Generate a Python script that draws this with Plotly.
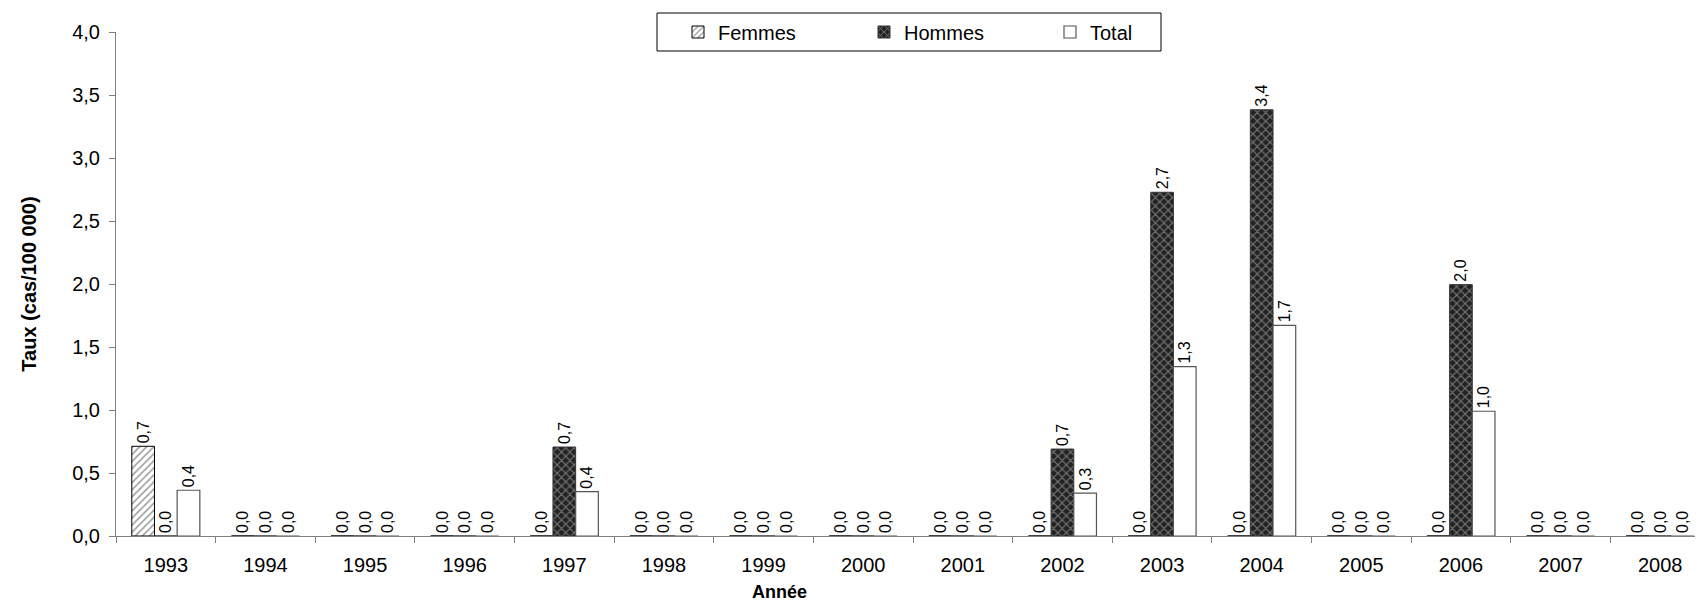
import plotly.graph_objects as go

years = ["1993", "1994", "1995", "1996", "1997", "1998", "1999", "2000",
         "2001", "2002", "2003", "2004", "2005", "2006", "2007", "2008"]
femmes = [0.712, 0, 0, 0, 0, 0, 0, 0, 0, 0, 0, 0, 0, 0, 0, 0]
hommes = [0, 0, 0, 0, 0.706, 0, 0, 0, 0, 0.69, 2.728, 3.383, 0, 1.995, 0, 0]
total = [0.363, 0, 0, 0, 0.352, 0, 0, 0, 0, 0.34, 1.345, 1.672, 0, 0.99, 0, 0]

LABEL_FONT = dict(family="Liberation Sans Narrow, Arial Narrow, Liberation Sans, sans-serif",
                  size=16, color="black")

# plot area in pixels: left 108, top 24, bottom 528 (paper area starts at y=5)
PAPER_H = 607 - 5 - 79
PLOT_W = 1703 - 108 - 1

fig = go.Figure()
fig.add_trace(go.Bar(
    name="Femmes", x=years, y=femmes,
    marker=dict(color="white", line=dict(color="black", width=1),
                pattern=dict(shape="/", fgcolor="#333333", size=5, solidity=0.3)),
    texttemplate="%{y:.1f}", textposition="outside", textangle=-90,
    textfont=LABEL_FONT, cliponaxis=False,
))
fig.add_trace(go.Bar(
    name="Hommes", x=years, y=hommes,
    marker=dict(color="#222222", line=dict(color="#333333", width=1),
                pattern=dict(shape="x", fgcolor="#cccccc", size=6, solidity=0.35)),
    texttemplate="%{y:.1f}", textposition="outside", textangle=-90,
    textfont=LABEL_FONT, cliponaxis=False,
))
fig.add_trace(go.Bar(
    name="Total", x=years, y=total,
    marker=dict(color="white", line=dict(color="#555555", width=1.2)),
    texttemplate="%{y:.1f}", textposition="outside", textangle=-90,
    textfont=LABEL_FONT, cliponaxis=False,
))

# legend frame, drawn separately so its size can match the original box
fig.add_shape(type="rect", xref="paper", yref="paper",
              x0=(649 - 108) / PLOT_W, x1=(1153 - 108) / PLOT_W,
              y0=1 - 38 / PAPER_H, y1=1.0,
              line=dict(color="black", width=1), fillcolor="white", layer="above")

fig.add_annotation(text="<b>Année</b>", xref="paper", yref="paper",
                   x=(771 - 108) / PLOT_W, y=-(584 - 528) / PAPER_H,
                   xanchor="center", yanchor="middle",
                   showarrow=False, font=dict(size=18))

fig.update_layout(
    width=1703, height=607,
    margin=dict(l=108, r=1, t=5, b=79),
    paper_bgcolor="white", plot_bgcolor="white",
    font=dict(family="Liberation Sans, Arial, sans-serif", size=20, color="black"),
    separators=", ",
    barmode="group", bargap=0.317, bargroupgap=0,
    showlegend=True,
    legend=dict(
        orientation="h", x=(670 - 108) / PLOT_W, y=1 - 19 / PAPER_H,
        xanchor="left", yanchor="middle",
        borderwidth=0, bgcolor="rgba(0,0,0,0)",
        font=dict(size=20), entrywidth=141, itemwidth=30,
    ),
)
fig.update_xaxes(
    showline=True, linecolor="#808080", linewidth=1,
    ticks="outside", tickson="boundaries", ticklen=6, tickcolor="#808080",
    tickfont=dict(size=20), ticklabelstandoff=11,
    showgrid=False, automargin=False,
)
fig.update_yaxes(
    range=[0, 4.0], dtick=0.5, tickformat=".1f", domain=[0, 1 - 19 / PAPER_H],
    showline=True, linecolor="#808080", linewidth=1,
    ticks="outside", ticklen=6, tickcolor="#808080",
    tickfont=dict(size=20), ticklabelstandoff=5,
    showgrid=False, zeroline=False, automargin=False,
    title=dict(text="<b>Taux (cas/100 000)</b>", font=dict(size=20), standoff=30),
)

fig.write_html("out.html")
